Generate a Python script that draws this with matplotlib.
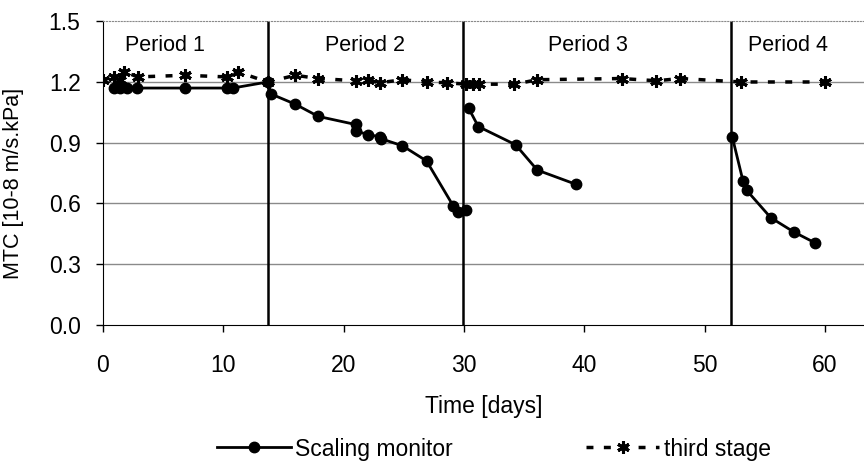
import numpy as np
import matplotlib
matplotlib.use('Agg')
import matplotlib.pyplot as plt

plt.rcParams['font.family'] = ['Liberation Sans', 'DejaVu Sans']

# scaling monitor, one list per period
p1_days = [0.9, 1.4, 2.0, 2.8, 6.8, 10.3, 10.8, 13.7, 14.0, 16.0, 17.9, 21.0, 21.0,
           22.0, 23.0, 23.1, 24.9, 26.9, 29.1, 29.5, 30.2]
p1_mtc = [1.17, 1.17, 1.17, 1.17, 1.17, 1.17, 1.17, 1.20, 1.14, 1.09, 1.03, 0.99, 0.96,
          0.94, 0.93, 0.92, 0.885, 0.81, 0.59, 0.56, 0.57]
p3_days = [30.4, 31.2, 34.3, 36.1, 39.3]
p3_mtc = [1.07, 0.98, 0.89, 0.765, 0.695]
p4_days = [52.3, 53.2, 53.5, 55.5, 57.4, 59.2]
p4_mtc = [0.93, 0.71, 0.665, 0.53, 0.46, 0.405]

# third stage
third_days = [0, 0.9, 1.4, 1.8, 2.9, 6.8, 10.3, 11.2, 13.7, 16.0, 17.9, 21.0, 22.0,
              23.0, 24.9, 26.9, 28.6, 30.2, 30.8, 31.3, 34.2, 36.1, 43.1, 46.0, 48.0,
              53.0, 60.0]
third_mtc = [1.21, 1.225, 1.21, 1.25, 1.225, 1.233, 1.225, 1.25, 1.20, 1.233, 1.217,
             1.206, 1.209, 1.196, 1.211, 1.20, 1.196, 1.189, 1.189, 1.189, 1.189, 1.211,
             1.217, 1.206, 1.217, 1.20, 1.20]

period_bounds = [13.7, 29.9, 52.2]
period_labels = ['Period 1', 'Period 2', 'Period 3', 'Period 4']
period_label_x = [5.2, 21.8, 40.3, 56.9]

fs = 16.5
fig = plt.figure(figsize=(8.64, 4.61), dpi=100)
ax = fig.add_axes([0.119, 0.295, 0.881, 0.659])

for v in np.arange(0.3, 1.3, 0.3):
    ax.axhline(v, color='#8a8a8a', lw=1.0, zorder=1)

for b in period_bounds:
    ax.axvline(b, color='black', lw=1.8, zorder=2)

ax.plot(third_days, third_mtc, color='black', ls=(0, (2, 3)), lw=2.5,
        marker=(6, 2, 0), ms=9, mew=2.2, label='third stage', zorder=3)

style = dict(color='black', lw=2, marker='o', ms=7.5, zorder=4)
ax.plot(p1_days, p1_mtc, label='Scaling monitor', **style)
ax.plot(p3_days, p3_mtc, **style)
ax.plot(p4_days, p4_mtc, **style)

for lab, x in zip(period_labels, period_label_x):
    ax.text(x, 1.38, lab, ha='center', va='center', fontsize=15.5)

ax.set_xlim(0, 63.25)
ax.set_ylim(0, 1.5)
ax.set_xticks(range(0, 61, 10))
ax.set_yticks(np.arange(0, 1.51, 0.3))
ax.set_yticklabels([f'{v:.1f}' for v in np.arange(0, 1.51, 0.3)])
ax.tick_params(labelsize=fs, direction='out', length=5, width=1)
ax.tick_params(axis='x', pad=16)
ax.tick_params(axis='y', pad=11)

ax.spines['right'].set_visible(False)
ax.spines['top'].set_color('#8a8a8a')
ax.spines['top'].set_linestyle(':')
ax.spines['left'].set_color('black')
ax.spines['bottom'].set_color('black')

ax.set_xlabel('Time [days]', fontsize=fs, labelpad=13)
ax.set_ylabel('MTC [10-8 m/s.kPa]', fontsize=15.5, labelpad=10)
ax.yaxis.set_label_coords(-0.104, 0.467)

h, l = ax.get_legend_handles_labels()
fig.legend(h[::-1], l[::-1], loc='center', bbox_to_anchor=(0.572, 0.026), ncol=2,
           frameon=False, fontsize=fs, handlelength=3.2, columnspacing=5.8,
           handletextpad=0.2, borderpad=0)

fig.savefig('out.png', dpi=100)
